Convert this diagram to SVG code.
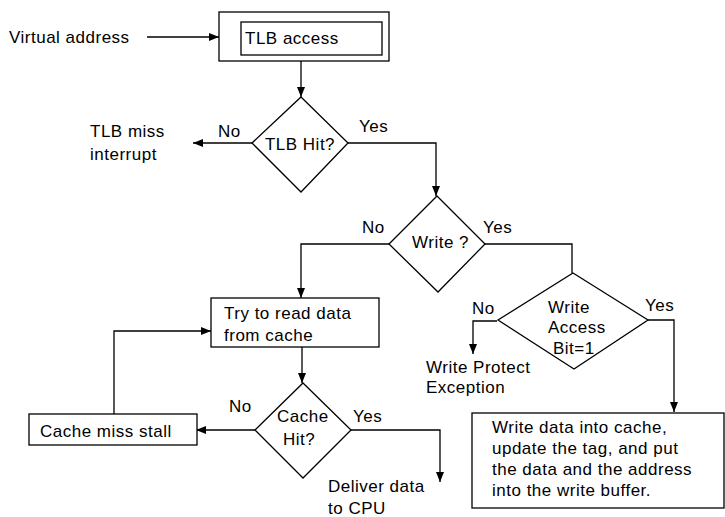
<svg xmlns="http://www.w3.org/2000/svg" width="725" height="517" viewBox="0 0 725 517">
<style>
text{font-family:"Liberation Sans",Arial,sans-serif;font-size:17px;letter-spacing:0.5px;fill:#000}
.b{fill:#fff;stroke:#000;stroke-width:1.3}
.c{fill:none;stroke:#000;stroke-width:1.3}
</style>
<defs>
<marker id="ah" viewBox="0 0 10 8" refX="10" refY="4" markerWidth="10" markerHeight="8" markerUnits="userSpaceOnUse" orient="auto">
<path d="M0,0 L10,4 L0,8 Z" fill="#000"/>
</marker>
</defs>
<rect width="725" height="517" fill="#fff"/>
<g id="connectors">
<path class="c" d="M147,37 H219" marker-end="url(#ah)"/>
<path class="c" d="M301,61 V97" marker-end="url(#ah)"/>
<path class="c" d="M252,143 H193" marker-end="url(#ah)"/>
<path class="c" d="M348,143 H436 V196" marker-end="url(#ah)"/>
<path class="c" d="M389,244 H301 V298" marker-end="url(#ah)"/>
<path class="c" d="M485,244 H572 V273"/>
<path class="c" d="M497,321 H473 V354" marker-end="url(#ah)"/>
<path class="c" d="M648,320 H674 V412" marker-end="url(#ah)"/>
<path class="c" d="M302,347 V383" marker-end="url(#ah)"/>
<path class="c" d="M255,430 H196" marker-end="url(#ah)"/>
<path class="c" d="M114,414 V331 H211" marker-end="url(#ah)"/>
<path class="c" d="M351,430 H440 V482" marker-end="url(#ah)"/>
</g>
<g id="virtual-address"><text x="9" y="43">Virtual address</text></g>
<g id="tlb-access">
<rect class="b" x="219" y="12" width="170" height="49"/>
<rect class="b" x="241" y="22" width="141" height="33"/>
<text x="245" y="44">TLB access</text>
</g>
<g id="tlb-hit">
<path class="b" d="M301,97 L348,143 L301,192 L252,143 Z"/>
<text x="300" y="150" text-anchor="middle">TLB Hit?</text>
<text x="218" y="137">No</text>
<text x="359" y="132">Yes</text>
</g>
<g id="tlb-miss">
<text x="90" y="137">TLB miss</text>
<text x="90" y="160">interrupt</text>
</g>
<g id="write-q">
<path class="b" d="M437,196 L485,244 L438,292 L389,244 Z"/>
<text x="412" y="248">Write ?</text>
<text x="362" y="233">No</text>
<text x="483" y="233">Yes</text>
</g>
<g id="write-access">
<path class="b" d="M573,273 L648,320 L574,369 L498,320 Z"/>
<text x="548" y="313">Write</text>
<text x="548" y="333">Access</text>
<text x="553" y="354">Bit=1</text>
<text x="472" y="314">No</text>
<text x="645" y="311">Yes</text>
</g>
<g id="write-protect">
<text x="426" y="373">Write Protect</text>
<text x="426" y="393">Exception</text>
</g>
<g id="write-data">
<rect class="b" x="472" y="413" width="252" height="95"/>
<text x="492" y="433">Write data into cache,</text>
<text x="492" y="454">update the tag, and put</text>
<text x="492" y="475">the data and the address</text>
<text x="492" y="496">into the write buffer.</text>
</g>
<g id="try-read">
<rect class="b" x="211" y="298" width="168" height="49"/>
<text x="224" y="319">Try to read data</text>
<text x="224" y="341">from cache</text>
</g>
<g id="cache-hit">
<path class="b" d="M303,383 L351,430 L303,478 L255,430 Z"/>
<text x="277" y="422">Cache</text>
<text x="283" y="445">Hit?</text>
<text x="229" y="412">No</text>
<text x="353" y="422">Yes</text>
</g>
<g id="cache-miss">
<rect class="b" x="29" y="414" width="168" height="31"/>
<text x="40" y="437">Cache miss stall</text>
</g>
<g id="deliver">
<text x="328" y="492">Deliver data</text>
<text x="328" y="514">to CPU</text>
</g>
</svg>
